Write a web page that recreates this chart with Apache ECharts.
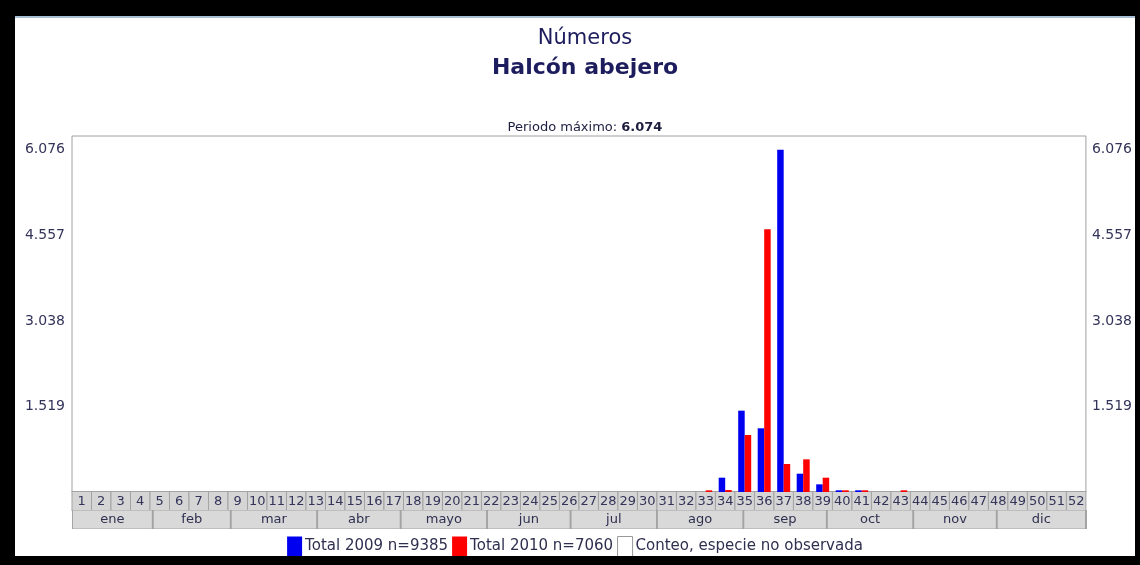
<!DOCTYPE html>
<html>
<head>
<meta charset="utf-8">
<script src="https://cdn.jsdelivr.net/npm/echarts@6/dist/echarts.min.js"></script>
<style>
  html, body { margin: 0; padding: 0; background: #000; width: 1140px; height: 565px; overflow: hidden; }
  #chart { position: absolute; left: 15px; top: 16px; width: 1120px; height: 540px; background: #fff; border-top: 2px solid #a9bfd6; box-sizing: border-box; }
</style>
</head>
<body>
<div id="chart"></div>
<script>
// ---- data ----
const weeks = ['1','2','3','4','5','6','7','8','9','10','11','12','13','14','15','16','17','18','19','20','21','22','23','24','25','26','27','28','29','30','31','32','33','34','35','36','37','38','39','40','41','42','43','44','45','46','47','48','49','50','51','52'];
// weekly totals (weeks 1..52)
const total2009 = [0,0,0,0,0,0,0,0,0,0,0,0,0,0,0,0,0,0,0,0,0,0,0,0,0,0,0,0,0,0,0,0,0,254,1444,1131,6074,325,136,30,30,0,0,0,0,0,0,0,0,0,0,0];
const total2010 = [0,0,0,0,0,0,0,0,0,0,0,0,0,0,0,0,0,0,0,0,0,0,0,0,0,0,0,0,0,0,0,0,30,35,1012,4665,497,580,254,30,30,0,30,0,0,0,0,0,0,0,0,0];
const yTicks = [1519, 3038, 4557, 6076];
const yTickLabels = ['1.519', '3.038', '4.557', '6.076'];
const months = ['ene','feb','mar','abr','mayo','jun','jul','ago','sep','oct','nov','dic'];
const monthDays = [31,28,31,30,31,30,31,31,30,31,30,31];
const seriesNames = ['Total 2009 n=9385', 'Total 2010 n=7060', 'Conteo, especie no observada'];
const maxPeriod = '6.074';

// ---- layout helpers ----
const gridLeft = 57, gridWidth = 1015, gridTop = 118, gridHeight = 356;
const dayMin = 2, dayMax = 366;
const pxPerDay = gridWidth / (dayMax - dayMin);
const monthStart = [];
let acc = 0;
monthDays.forEach(d => { monthStart.push(acc); acc += d; });
const monthMid = [], monthWidth = [];
monthDays.forEach((d, i) => {
  const s = Math.max(monthStart[i], dayMin);
  let e = monthStart[i] + d;
  if (i === monthDays.length - 1) e = dayMax;
  monthMid.push((s + e) / 2);
  monthWidth.push((e - s) * pxPerDay);
});
const monthRich = {};
monthWidth.forEach((w, i) => {
  monthRich['m' + i] = {
    width: w - 2, height: 18, lineHeight: 19, align: 'center',
    backgroundColor: '#d9d9d9',
    color: '#2f2f50', fontSize: 13, fontFamily: 'DejaVu Sans'
  };
});

const chart = echarts.init(document.getElementById('chart'), null, { renderer: 'canvas' });
const labelColor = '#34345a';
chart.setOption({
  animation: false,
  backgroundColor: '#fff',
  title: [
    { text: 'Números', left: 565, textAlign: 'center', top: 5,
      textStyle: { fontFamily: 'DejaVu Sans', fontSize: 21, fontWeight: 'normal', color: '#1d1d5e' } },
    { text: 'Halcón abejero', left: 565, textAlign: 'center', top: 34,
      textStyle: { fontFamily: 'DejaVu Sans', fontSize: 22, fontWeight: 'bold', color: '#1d1d5e' } },
    { text: '{a|Periodo máximo: }{b|' + maxPeriod + '}', left: 565, textAlign: 'center', top: 98,
      textStyle: { fontWeight: 'normal', rich: {
        a: { fontFamily: 'DejaVu Sans', fontSize: 13, fontWeight: 'normal', color: '#1d1d40' },
        b: { fontFamily: 'DejaVu Sans', fontSize: 13, fontWeight: 'bold', color: '#1d1d40' }
      } } }
  ],
  legend: {
    left: 'center', top: 518, padding: 0,
    itemWidth: 15, itemHeight: 20, itemGap: 4, icon: 'rect',
    textStyle: { fontFamily: 'DejaVu Sans', fontSize: 15, color: '#2f2f50', padding: [0, 0, 0, -2] },
    data: [
      { name: seriesNames[0] },
      { name: seriesNames[1] },
      { name: seriesNames[2], itemStyle: { color: '#ffffff', borderColor: '#999999', borderWidth: 1 } }
    ]
  },
  graphic: [
    { type: 'rect', z: -1, left: gridLeft, top: gridTop + gridHeight + 18,
      shape: { width: gridWidth, height: 19 }, style: { fill: '#a3a3a3' } }
  ],
  grid: {
    left: gridLeft, top: gridTop, width: gridWidth, height: gridHeight,
    show: true, borderColor: '#a0a0a0', borderWidth: 1, backgroundColor: '#fff'
  },
  xAxis: [
    {
      type: 'category', data: weeks, position: 'bottom',
      axisLine: { show: false }, axisTick: { show: false }, splitLine: { show: false },
      axisLabel: {
        interval: 0, margin: 0, fontFamily: 'DejaVu Sans', fontSize: 13, color: labelColor,
        width: 18.5, height: 18, lineHeight: 19, align: 'center',
        backgroundColor: '#d5d5d5', borderColor: '#a3a3a3', borderWidth: 1
      }
    },
    {
      type: 'value', min: dayMin, max: dayMax, position: 'bottom', offset: 18,
      axisLine: { show: false }, axisTick: { show: false }, splitLine: { show: false },
      axisLabel: {
        margin: 0, customValues: monthMid, hideOverlap: false,
        formatter: function (v) {
          let k = 0, best = Infinity;
          monthMid.forEach((m, i) => { const d = Math.abs(m - v); if (d < best) { best = d; k = i; } });
          return '{m' + k + '|' + months[k] + '}';
        },
        rich: monthRich
      }
    }
  ],
  yAxis: [
    {
      type: 'value', min: 0, max: 6320, position: 'left',
      axisLine: { show: false }, axisTick: { show: false }, splitLine: { show: false },
      axisLabel: {
        customValues: yTicks, margin: 7, fontFamily: 'DejaVu Sans', fontSize: 14, color: labelColor,
        formatter: function (v) { return yTickLabels[yTicks.indexOf(v)]; }
      }
    },
    {
      type: 'value', min: 0, max: 6320, position: 'right',
      axisLine: { show: false }, axisTick: { show: false }, splitLine: { show: false },
      axisLabel: {
        customValues: yTicks, margin: 6, fontFamily: 'DejaVu Sans', fontSize: 14, color: labelColor,
        formatter: function (v) { return yTickLabels[yTicks.indexOf(v)]; }
      }
    }
  ],
  series: [
    { name: seriesNames[0], type: 'bar', data: total2009, xAxisIndex: 0, yAxisIndex: 0,
      barWidth: 6.5, barGap: '0%', itemStyle: { color: '#0000f0' } },
    { name: seriesNames[1], type: 'bar', data: total2010, xAxisIndex: 0, yAxisIndex: 0,
      barWidth: 6.5, barGap: '0%', itemStyle: { color: '#ff0000' } },
    { name: seriesNames[2], type: 'line', data: [], xAxisIndex: 0, yAxisIndex: 0,
      itemStyle: { color: '#ffffff', borderColor: '#999999', borderWidth: 1 },
      lineStyle: { color: '#ffffff' } }
  ]
});
</script>
</body>
</html>
